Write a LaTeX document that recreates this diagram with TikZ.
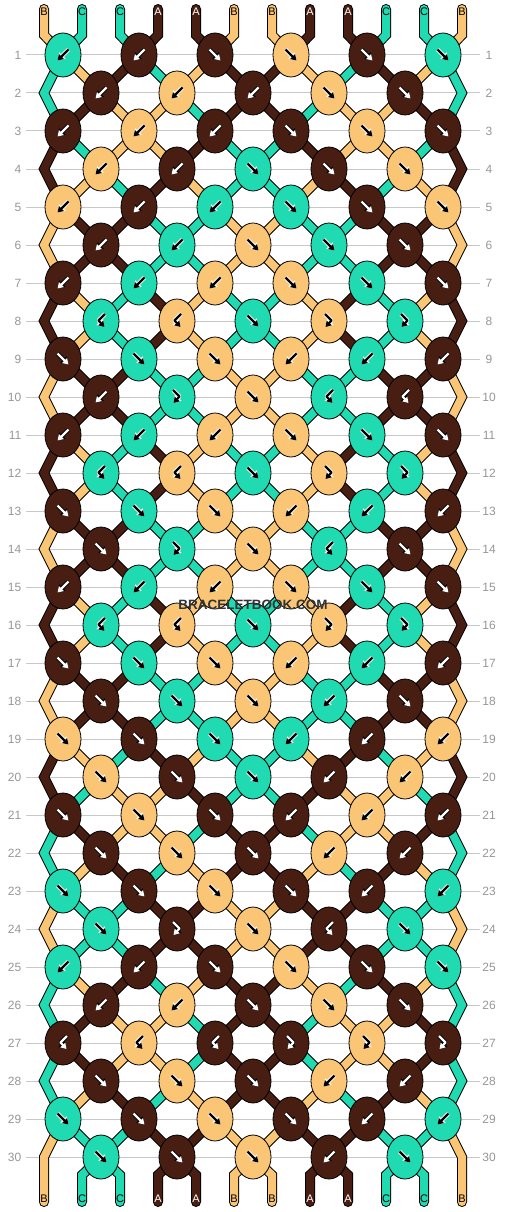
\documentclass[tikz,border=0pt]{standalone}
\usepackage{fontspec}
\setmainfont{Liberation Sans}
\usetikzlibrary{shapes.geometric,arrows.meta}
\definecolor{strA}{RGB}{72,30,18}
\definecolor{strB}{RGB}{250,198,118}
\definecolor{strC}{RGB}{32,219,178}
\definecolor{numgray}{RGB}{150,150,150}
\definecolor{linegray}{RGB}{200,200,200}
\pgfdeclarelayer{strings}
\pgfsetlayers{strings,main}

% knots row by row: colour/type (f, b, fb, bf)
\def\knotrows{%
{C/b,A/b,A/f,B/f,A/f,C/f},
{A/b,B/b,A/b,B/f,A/f},
{A/b,B/b,A/b,A/f,B/f,A/f},
{B/b,A/b,C/f,A/f,B/f},
{B/b,A/b,C/b,C/f,A/f,B/f},
{A/b,C/b,B/f,C/f,A/f},
{A/b,C/b,B/b,B/f,C/f,A/f},
{C/bf,B/bf,C/f,B/fb,C/fb},
{A/f,C/f,B/f,B/b,C/b,A/b},
{A/b,C/fb,B/f,C/bf,A/bf},
{A/b,C/b,B/b,B/f,C/f,A/f},
{C/bf,B/bf,C/f,B/fb,C/fb},
{A/f,C/f,B/f,B/b,C/b,A/b},
{A/f,C/fb,B/f,C/bf,A/f},
{A/b,C/b,B/b,B/f,C/f,A/f},
{C/bf,B/bf,C/f,B/fb,C/fb},
{A/f,C/f,B/f,B/b,C/b,A/b},
{A/f,C/f,B/f,C/b,A/f},
{B/f,A/f,C/f,C/b,A/b,B/b},
{B/f,A/f,C/f,A/b,B/b},
{A/f,B/f,A/f,A/b,B/b,A/b},
{A/f,B/f,A/f,B/b,A/b},
{C/f,A/f,B/f,A/f,A/b,C/b},
{C/f,A/fb,B/f,A/bf,C/f},
{C/b,A/b,A/f,B/f,A/f,C/f},
{A/b,B/b,A/f,B/f,A/f},
{A/bf,B/bf,A/bf,A/fb,B/fb,A/fb},
{A/f,B/f,A/f,B/b,A/b},
{C/f,A/f,B/f,A/f,A/b,C/b},
{C/f,A/f,B/f,A/b,C/f}}

% strings after each row
\def\states{%
{C,B,A,C,B,A,A,B,C,A,B,C},
{C,A,B,B,C,A,A,C,B,B,A,C},
{A,C,B,B,A,C,C,A,B,B,C,A},
{A,B,C,A,B,C,C,B,A,C,B,A},
{B,A,A,C,C,B,B,C,C,A,A,B},
{B,A,A,C,C,B,B,C,C,A,A,B},
{A,B,C,A,B,C,C,B,A,C,B,A},
{A,B,C,A,B,C,C,B,A,C,B,A},
{B,A,A,C,C,B,B,C,C,A,A,B},
{B,A,A,C,C,B,B,C,C,A,A,B},
{A,B,C,A,B,C,C,B,A,C,B,A},
{A,B,C,A,B,C,C,B,A,C,B,A},
{B,A,A,C,C,B,B,C,C,A,A,B},
{B,A,A,C,C,B,B,C,C,A,A,B},
{A,B,C,A,B,C,C,B,A,C,B,A},
{A,B,C,A,B,C,C,B,A,C,B,A},
{B,A,A,C,C,B,B,C,C,A,A,B},
{B,A,A,C,C,B,B,C,C,A,A,B},
{A,B,C,A,B,C,C,B,A,C,B,A},
{A,C,B,B,A,C,C,A,B,B,C,A},
{C,A,B,B,C,A,A,C,B,B,A,C},
{C,B,A,C,B,A,A,B,C,A,B,C},
{B,C,C,A,A,B,B,A,A,C,C,B},
{B,C,C,A,A,B,B,A,A,C,C,B},
{C,B,A,C,B,A,A,B,C,A,B,C},
{C,A,B,B,C,A,A,C,B,B,A,C},
{C,A,B,B,C,A,A,C,B,B,A,C},
{C,B,A,C,B,A,A,B,C,A,B,C},
{B,C,C,A,A,B,B,A,A,C,C,B},
{B,C,C,A,A,B,B,A,A,C,C,B}}

\newcommand\glyph[1]{\draw[halo,haloline] #1; \draw[ink,inkline] #1;}

\newcommand\stringpass[1]{%
  % top ends into row 1
  \foreach \c [count=\p] in {B,C,C,A,A,B,B,A,A,C,C,B} {
    \pgfmathtruncatemacro\ja{(\p+1)/2}
    \draw[#1] (t\p) -- (tb\p) -- (k1-\ja.center);
  }
  % row to row
  \foreach \s [count=\r] in \states {
    \pgfmathtruncatemacro\rp{\r-1}
    \pgfmathtruncatemacro\rn{\r+1}
    \pgfmathtruncatemacro\isodd{mod(\r,2)}
    \foreach \c [count=\p] in \s {
      \pgfmathtruncatemacro\ja{\isodd==1 ? (\p+1)/2 : \p/2}
      \pgfmathtruncatemacro\jb{\isodd==1 ? \p/2 : (\p+1)/2}
      \pgfmathtruncatemacro\isinner{\p>1 && \p<12}
      \ifnum\isinner=1
        \ifnum\r<30 \draw[#1] (k\r-\ja.center) -- (k\rn-\jb.center);
        \else \draw[#1] (k\r-\ja.center) -- (bb\p) -- (b\p); \fi
      \else\ifnum\isodd=0
        \ifnum\p=1 \def\eside{1}\def\edgename{eL}\else \def\eside{6}\def\edgename{eR}\fi
        \ifnum\r<30 \draw[#1] (k\rp-\eside.center) -- (\edgename\r) -- (k\rn-\eside.center);
        \else \draw[#1] (k\rp-\eside.center) -- (\edgename\r) -- (b\p); \fi
      \fi\fi
    }
  }
}

\begin{document}
\begin{tikzpicture}[x=1pt,y=-1pt]
\tikzstyle{knot}=[ellipse,draw=black,line width=0.8pt,minimum width=36pt,minimum height=44pt,inner sep=0pt]
\tikzstyle{rowline}=[draw=linegray,line width=1pt]
\tikzstyle{rownum}=[text=numgray,font=\fontsize{12}{14}\selectfont,inner sep=0pt]
\tikzstyle{letter}=[font=\fontsize{11}{12}\selectfont,inner sep=0pt]
\tikzset{
  inkline/.style={line width=2.2pt,line join=round,-{Triangle[length=5.5pt,width=6.5pt]}},
  haloline/.style={line width=4pt,line join=round,-{Triangle[length=7pt,width=8.5pt]}},
  ink A/.style={ink/.style={draw=white},halo/.style={draw=black}},
  ink B/.style={ink/.style={draw=black},halo/.style={draw=white}},
  ink C/.style={ink/.style={draw=black},halo/.style={draw=white}},
  letter A/.style={text=white},
  letter B/.style={text=black},
  letter C/.style={text=black},
  pics/glyph f/.style={code={\glyph{(-5.5,-5.5) -- (5.5,5.5)}}},
  pics/glyph b/.style={code={\glyph{(5.5,-5.5) -- (-5.5,5.5)}}},
  pics/glyph fb/.style={code={\glyph{(-4,-7) -- (2.5,-0.5) -- (-3.5,6)}}},
  pics/glyph bf/.style={code={\glyph{(4,-7) -- (-2.5,-0.5) -- (3.5,6)}}}
}
\useasboundingbox (0,0) rectangle (506,1212);

% string ends and edge turns
\foreach \p in {1,...,12} {
  \coordinate (t\p) at (6+38*\p,9);
  \coordinate (tb\p) at (6+38*\p,35);
  \coordinate (bb\p) at (6+38*\p,1175);
  \coordinate (b\p) at (6+38*\p,1202);
}
\foreach \r in {2,4,...,30} {
  \coordinate (eL\r) at (44,17+38*\r);
  \coordinate (eR\r) at (462,17+38*\r);
}

% knots
\foreach \row [count=\r] in \knotrows {
  \pgfmathsetmacro\xo{63+38*(1-mod(\r,2))}
  \foreach \c/\t [count=\j] in \row {
    \node[knot,fill=str\c] (k\r-\j) at (\xo+76*\j-76,17+38*\r) {};
    \pic[ink \c] at (k\r-\j) {glyph \t};
  }
}

% strings behind the knots
\begin{pgfonlayer}{strings}
\foreach \r in {1,...,30} \draw[rowline] (26,17+38*\r) -- (480,17+38*\r);
\stringpass{line width=10pt,draw=black,line cap=round}
\stringpass{line width=8pt,draw=str\c,line cap=round}
\end{pgfonlayer}

% row numbers
\foreach \r in {1,...,30} {
  \node[rownum,anchor=east] (numL\r) at (21.5,17+38*\r) {\r};
  \node[rownum] (numR\r) at (489,17+38*\r) {\r};
}

% string letters
\foreach \c [count=\p] in {B,C,C,A,A,B,B,A,A,C,C,B} {
  \node[letter,letter \c] (top\p) at (6+38*\p,12) {\c};
  \node[letter,letter \c] (bot\p) at (6+38*\p,1199) {\c};
}

\node[font=\bfseries\fontsize{13.5}{15}\selectfont,text=black!80] (mark) at (253,605) {BRACELETBOOK.COM};
\end{tikzpicture}
\end{document}
